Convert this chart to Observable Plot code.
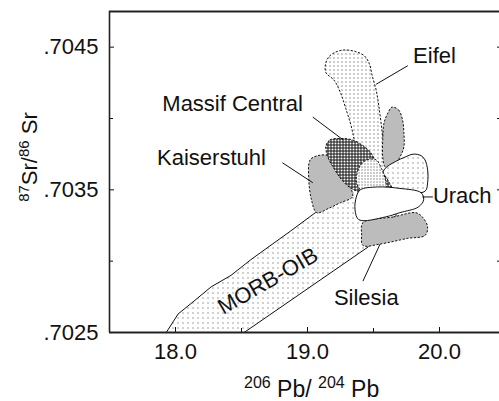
<!DOCTYPE html>
<html><head><meta charset="utf-8">
<script src="https://cdn.jsdelivr.net/npm/d3@7"></script>
<script src="https://cdn.jsdelivr.net/npm/@observablehq/plot@0.6"></script>
<style>html,body{margin:0;padding:0;background:#fff;overflow:hidden}</style>
</head><body><div id="chart"></div>
<script>
// axes
const xDomain = [17.5, 20.5];
const yDomain = [0.7025, 0.70475];
const xTicks = [18.0, 19.0, 20.0];
const xMinorTicks = [18.5, 19.5];
const yTicks = [0.7025, 0.7035, 0.7045];
const yMinorTicks = [0.7030, 0.7040];

// fields: [206Pb/204Pb, 87Sr/86Sr]
const morbOib = [[17.93,0.70250],[18.02,0.70263],[18.14,0.70272],[18.27,0.70282],[18.42,0.70290],[18.57,0.70301],[18.87,0.70321],[19.06,0.70334],[19.21,0.70344],[19.36,0.70353],[19.55,0.70358],[19.67,0.70350],[19.67,0.70330],[19.44,0.70325],[19.46,0.70310],[18.52,0.70250]];
const eifel = [[19.40,0.70372],[19.36,0.70383],[19.33,0.70395],[19.29,0.70407],[19.25,0.70418],[19.20,0.70427],[19.14,0.70432],[19.136,0.70438],[19.16,0.70443],[19.20,0.70446],[19.27,0.70448],[19.36,0.70447],[19.43,0.70444],[19.47,0.70438],[19.49,0.70430],[19.52,0.70420],[19.54,0.70409],[19.56,0.70395],[19.58,0.70381],[19.61,0.70367],[19.65,0.70353],[19.55,0.70350],[19.44,0.70357]];
const grayOval = [[19.64,0.70408],[19.69,0.70406],[19.72,0.70399],[19.73,0.70390],[19.73,0.70380],[19.70,0.70373],[19.65,0.70367],[19.59,0.70366],[19.57,0.70373],[19.57,0.70385],[19.58,0.70397],[19.61,0.70404]];
const upperLobe = [[19.58,0.70364],[19.67,0.70370],[19.74,0.70373],[19.80,0.70375],[19.86,0.70374],[19.89,0.70371],[19.91,0.70364],[19.91,0.70355],[19.89,0.70349],[19.70,0.70348],[19.55,0.70348]];
const kaiserstuhl = [[19.02,0.70371],[19.08,0.70374],[19.16,0.70374],[19.23,0.70369],[19.29,0.70360],[19.33,0.70351],[19.34,0.70345],[19.25,0.70341],[19.16,0.70337],[19.07,0.70334],[19.03,0.70343],[19.01,0.70357]];
const massifCentral = [[19.14,0.70381],[19.17,0.70385],[19.25,0.70386],[19.34,0.70385],[19.42,0.70381],[19.48,0.70376],[19.52,0.70369],[19.58,0.70361],[19.62,0.70355],[19.64,0.70350],[19.54,0.70348],[19.42,0.70348],[19.33,0.70351],[19.26,0.70357],[19.20,0.70365],[19.15,0.70374]];
const fieldX = [[19.40,0.70367],[19.45,0.70371],[19.52,0.70371],[19.56,0.70365],[19.59,0.70357],[19.59,0.70350],[19.49,0.70348],[19.40,0.70350],[19.37,0.70358]];
const urach = [[19.40,0.70350],[19.53,0.70352],[19.70,0.70351],[19.86,0.70348],[19.88,0.70343],[19.84,0.70338],[19.70,0.70334],[19.59,0.70331],[19.39,0.70329],[19.36,0.70336],[19.37,0.70345]];
const silesia = [[19.42,0.70327],[19.65,0.70331],[19.82,0.70334],[19.87,0.70331],[19.91,0.70324],[19.89,0.70318],[19.76,0.70316],[19.55,0.70312],[19.42,0.70311],[19.41,0.70319]];

// labels
const labelText = ["Eifel", "Massif Central", "Kaiserstuhl", "Urach", "Silesia"];
const labelX = [19.80, 17.90, 17.86, 19.95, 19.20];
const labelY = [0.70444, 0.70410, 0.70372, 0.70346, 0.70274];
const morbLabel = ["MORB-OIB"];
const morbLabelX = [18.70];
const morbLabelY = [0.70286];

// leader lines
const leaderX1 = [19.76, 19.04, 18.81, 19.87, 19.42];
const leaderY1 = [0.70437, 0.70401, 0.70369, 0.70345, 0.70286];
const leaderX2 = [19.52, 19.27, 19.04, 19.95, 19.55];
const leaderY2 = [0.70424, 0.70385, 0.70355, 0.70345, 0.70312];

const FONT = "'Liberation Sans', Arial, Helvetica, sans-serif";
const INK = "#111";

function field(data, pat, dashed, curve) {
  return Plot.line(data, {
    x: d => d[0], y: d => d[1], curve,
    fill: `url(#${pat})`, stroke: INK, strokeWidth: 1,
    strokeDasharray: dashed ? "2.2,1.6" : undefined,
    strokeLinejoin: "round", strokeLinecap: "butt"
  });
}

const idx5 = d3.range(labelText.length);
const plotW = 499 - 109, plotH = 332 - 11;

const plot = Plot.plot({
  width: 499, height: 401,
  marginLeft: 109, marginRight: 0, marginTop: 11, marginBottom: 69,
  x: {domain: xDomain, range: [109, 505]},
  y: {domain: yDomain},
  style: {fontFamily: FONT, fontSize: "22px", color: INK, background: "#fff"},
  marks: [
    field(morbOib, "pSparse", false, "linear-closed"),
    field(eifel, "pEifel", true, "catmull-rom-closed"),
    field(grayOval, "pGray", true, "catmull-rom-closed"),
    field(upperLobe, "pSparse", false, "catmull-rom-closed"),
    field(kaiserstuhl, "pGray", true, "catmull-rom-closed"),
    field(massifCentral, "pCheck", true, "catmull-rom-closed"),
    field(fieldX, "pMedium", true, "catmull-rom-closed"),
    field(silesia, "pGray", true, "catmull-rom-closed"),
    field(urach, "pWhite", false, "catmull-rom-closed"),
    Plot.link(idx5, {x1: i => leaderX1[i], y1: i => leaderY1[i], x2: i => leaderX2[i], y2: i => leaderY2[i], stroke: INK, strokeWidth: 1}),
    Plot.text(idx5, {x: i => labelX[i], y: i => labelY[i], text: i => labelText[i], textAnchor: "start", fontSize: 22, fill: INK}),
    Plot.text(morbLabel, {x: morbLabelX, y: morbLabelY, text: morbLabel, rotate: -30, fontSize: 22, fill: INK}),
    Plot.tickY(yTicks, {y: d => d, insetRight: plotW - 5, stroke: INK, strokeWidth: 1}),
    Plot.tickY(yMinorTicks, {y: d => d, insetRight: plotW - 4, stroke: INK, strokeWidth: 1}),
    Plot.tickY(yTicks.concat(yMinorTicks), {y: d => d, insetLeft: plotW - 2, stroke: INK, strokeWidth: 1}),
    Plot.tickX(xTicks, {x: d => d, insetTop: plotH - 5, stroke: INK, strokeWidth: 1}),
    Plot.tickX(xMinorTicks, {x: d => d, insetTop: plotH - 4, stroke: INK, strokeWidth: 1}),
    Plot.ruleX([xDomain[0]], {stroke: "#222", strokeWidth: 1.6}),
    Plot.ruleY(yDomain, {stroke: "#222", strokeWidth: 2}),
    Plot.axisY(yTicks, {tickSize: 0, tickPadding: 11, tickFormat: d => d.toFixed(4).slice(1), label: null, fontSize: 22, fill: INK}),
    Plot.axisX(xTicks, {tickSize: 0, tickPadding: 11, tickFormat: d => d.toFixed(1), label: null, fontSize: 22, fill: INK})
  ]
});

// fill patterns
const svg = d3.select(plot);
const defs = svg.insert("defs", ":first-child");
function pattern(id, size, bg, draw) {
  const p = defs.append("pattern").attr("id", id).attr("width", size).attr("height", size)
    .attr("patternUnits", "userSpaceOnUse").attr("shape-rendering", "crispEdges");
  p.append("rect").attr("width", size).attr("height", size).attr("fill", bg);
  if (draw) draw(p);
}
const dot = (p, x, y, c) => p.append("rect").attr("x", x).attr("y", y).attr("width", 1).attr("height", 1).attr("fill", c);
pattern("pSparse", 5, "#fff", p => dot(p, 2, 2, "#444"));
pattern("pEifel", 4, "#fff", p => dot(p, 1, 1, "#333"));
pattern("pGray", 2, "#dcdcdc", p => dot(p, 0, 0, "#5a5a5a"));
pattern("pMedium", 3, "#fff", p => dot(p, 1, 1, "#333"));
pattern("pCheck", 3, "#111", p => p.append("rect").attr("x", 1).attr("y", 1).attr("width", 2).attr("height", 2).attr("fill", "#fff"));
pattern("pWhite", 2, "#fff");

// axis titles with superscripts
const yl = svg.append("text").attr("transform", "translate(37,157) rotate(-90)")
  .attr("text-anchor", "middle").attr("font-size", 22).attr("fill", INK);
yl.append("tspan").attr("font-size", 15).attr("dy", -8).text("87");
yl.append("tspan").attr("dy", 8).text("Sr/");
yl.append("tspan").attr("font-size", 15).attr("dy", -8).text("86");
yl.append("tspan").attr("dy", 8).text(" Sr");

const xl = svg.append("text").attr("x", 244).attr("y", 397)
  .attr("text-anchor", "start").attr("font-size", 23).attr("fill", INK);
xl.append("tspan").attr("font-size", 16).attr("dy", -9).text("206");
xl.append("tspan").attr("dy", 9).text(" Pb/ ");
xl.append("tspan").attr("font-size", 16).attr("dy", -9).text("204");
xl.append("tspan").attr("dy", 9).text(" Pb");

document.getElementById("chart").appendChild(plot);
</script>
</body></html>
